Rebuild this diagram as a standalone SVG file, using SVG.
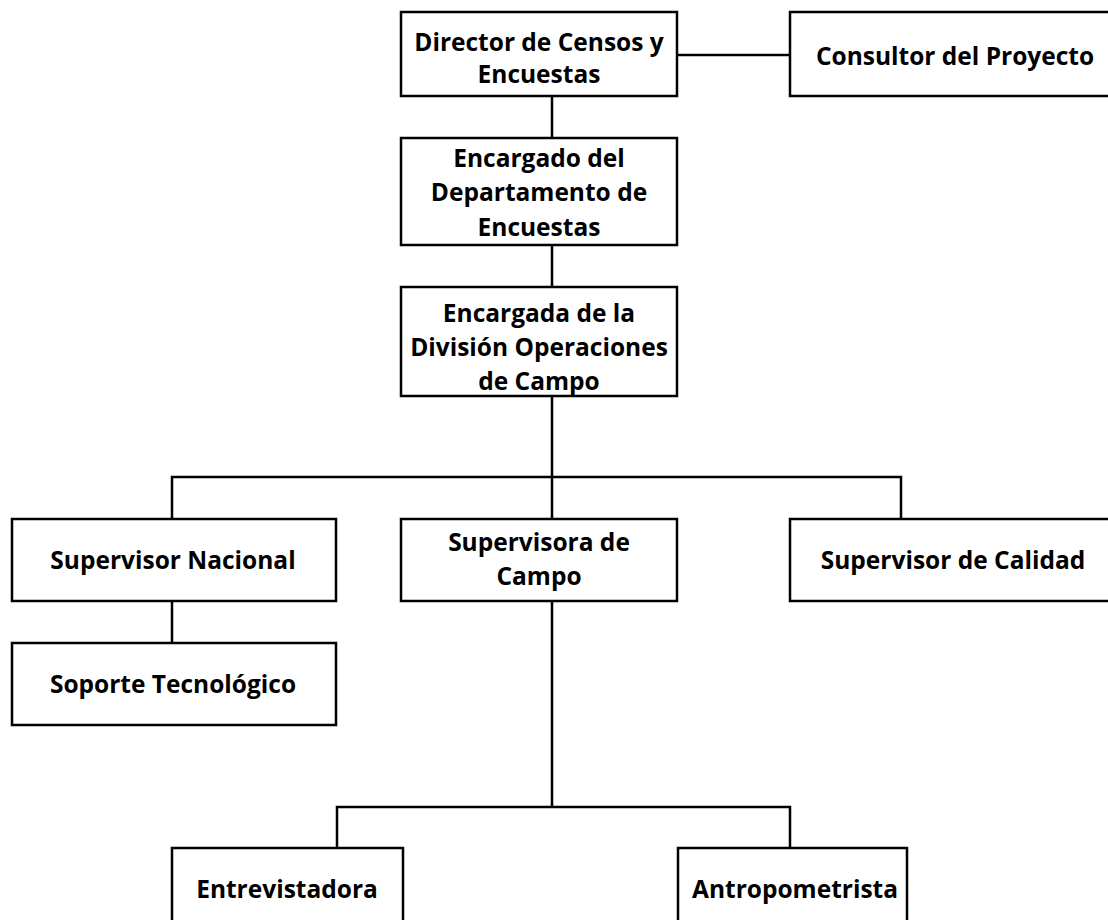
<svg xmlns="http://www.w3.org/2000/svg" width="1108" height="920" viewBox="0 0 1108 920">
<style>
.box{fill:#fff;stroke:#000;stroke-width:2.5}
.ln{fill:none;stroke:#000;stroke-width:2.5}
text{font-family:"Open Sans","Liberation Sans",sans-serif;font-weight:bold;font-size:24.5px;fill:#000;text-anchor:middle}
</style>
<rect width="1108" height="920" fill="#fff"/>
<g id="connectors">
<path class="ln" d="M677 55H790"/>
<path class="ln" d="M552 96V138"/>
<path class="ln" d="M552 245V287"/>
<path class="ln" d="M552 396V519"/>
<path class="ln" d="M172 519V477H901V519"/>
<path class="ln" d="M172 601V643"/>
<path class="ln" d="M552 601V807"/>
<path class="ln" d="M337 848V807H790V848"/>
</g>
<g id="director"><rect class="box" x="401" y="12" width="276" height="84"/><text x="539" y="51">Director de Censos y</text><text x="539" y="83">Encuestas</text></g>
<g id="consultor"><rect class="box" x="790" y="12" width="326" height="84"/><text x="955" y="65">Consultor del Proyecto</text></g>
<g id="encargado"><rect class="box" x="401" y="138" width="276" height="107"/><text x="539" y="167">Encargado del</text><text x="539" y="201">Departamento de</text><text x="539" y="236">Encuestas</text></g>
<g id="encargada"><rect class="box" x="401" y="287" width="276" height="109"/><text x="539" y="322">Encargada de la</text><text x="539" y="356">División Operaciones</text><text x="539" y="390">de Campo</text></g>
<g id="sup-nacional"><rect class="box" x="12" y="519" width="324" height="82"/><text x="173" y="569">Supervisor Nacional</text></g>
<g id="sup-campo"><rect class="box" x="401" y="519" width="276" height="82"/><text x="539" y="551">Supervisora de</text><text x="539" y="585">Campo</text></g>
<g id="sup-calidad"><rect class="box" x="790" y="519" width="326" height="82"/><text x="953" y="569">Supervisor de Calidad</text></g>
<g id="soporte"><rect class="box" x="12" y="643" width="324" height="82"/><text x="173" y="693">Soporte Tecnológico</text></g>
<g id="entrevistadora"><rect class="box" x="172" y="848" width="231" height="90"/><text x="287" y="898">Entrevistadora</text></g>
<g id="antropometrista"><rect class="box" x="678" y="848" width="229" height="90"/><text x="795" y="898">Antropometrista</text></g>
</svg>
